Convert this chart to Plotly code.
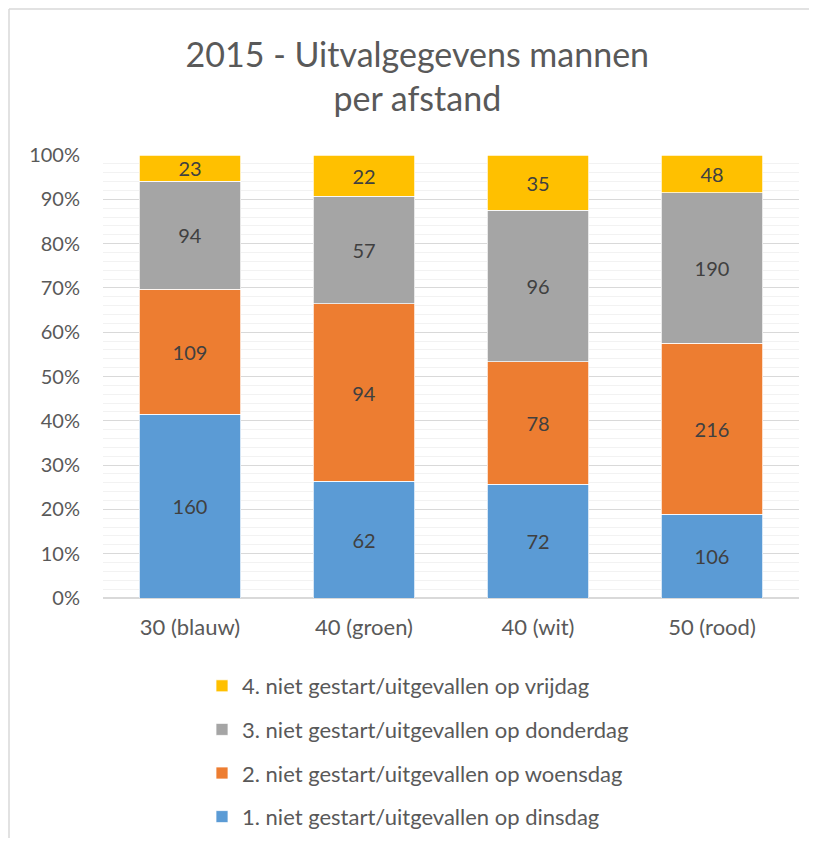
import plotly.graph_objects as go

categories = ["30 (blauw)", "40 (groen)", "40 (wit)", "50 (rood)"]
dinsdag = [160, 62, 72, 106]
woensdag = [109, 94, 78, 216]
donderdag = [94, 57, 96, 190]
vrijdag = [23, 22, 35, 48]

series = [
    ("1. niet gestart/uitgevallen op dinsdag", dinsdag, "#5B9BD5"),
    ("2. niet gestart/uitgevallen op woensdag", woensdag, "#ED7D31"),
    ("3. niet gestart/uitgevallen op donderdag", donderdag, "#A5A5A5"),
    ("4. niet gestart/uitgevallen op vrijdag", vrijdag, "#FFC000"),
]

FONT = "Lato"
OFF = 8  # page body margin
W, H = 801, 830  # fits the window together with the body margin
L, R, T, B = 95, 10, 147, 240
pw, ph = W - L - R, H - T - B


def px_x(x):
    # screenshot x -> paper x
    return (x - OFF - L) / pw


def px_y(y):
    # screenshot y -> paper y
    return (H - B - (y - OFF)) / ph


fig = go.Figure()
for i, (name, vals, color) in enumerate(series):
    fig.add_trace(
        go.Bar(
            x=categories,
            y=vals,
            name=name,
            legendgroup=str(i),
            legendrank=10 - i,
            marker=dict(color=color, line=dict(color="white", width=0.75)),
            text=[str(v) for v in vals],
            textposition="inside",
            insidetextanchor="middle",
            textangle=0,
            textfont=dict(family=FONT, size=20, color="#404040"),
        )
    )

fig.update_layout(
    width=W,
    height=H,
    barmode="stack",
    barnorm="percent",
    bargap=0.415,
    uniformtext=dict(minsize=20, mode="show"),
    paper_bgcolor="white",
    plot_bgcolor="white",
    margin=dict(l=L, r=R, t=T, b=B, autoexpand=False),
    font=dict(family=FONT, color="#595959"),
    title=dict(
        text="2015 - Uitvalgegevens mannen<br>per afstand",
        x=0.511,
        xanchor="center",
        y=0.9287,
        yanchor="top",
        yref="container",
        font=dict(family=FONT, size=34, color="#595959"),
    ),
    xaxis=dict(
        showgrid=False,
        showline=False,
        ticks="",
        ticklabelstandoff=14,
        tickfont=dict(size=22, color="#595959"),
    ),
    yaxis=dict(
        range=[0, 100],
        dtick=10,
        ticksuffix="%",
        tickfont=dict(size=20, color="#595959"),
        gridcolor="#D9D9D9",
        gridwidth=1,
        zeroline=True,
        zerolinecolor="#D9D9D9",
        zerolinewidth=1.5,
        showline=False,
        ticks="",
        ticklabelstandoff=22,
        minor=dict(dtick=2, showgrid=True, gridcolor="#F2F2F2", gridwidth=1),
    ),
    legend=dict(
        orientation="v",
        traceorder="grouped",
        tracegroupgap=12,
        x=px_x(202),
        xanchor="left",
        y=px_y(665),
        yanchor="top",
        itemwidth=30,
        font=dict(family=FONT, size=22, color="#595959"),
    ),
    showlegend=True,
)

# chart frame: only the left and top edges are inside the picture
frame = dict(color="#D9D9D9", width=1.5)
fig.add_shape(type="line", xref="paper", yref="paper",
              x0=px_x(9), x1=px_x(9), y0=px_y(880), y1=px_y(9),
              line=frame, layer="below")
fig.add_shape(type="line", xref="paper", yref="paper",
              x0=px_x(9), x1=px_x(840), y0=px_y(9), y1=px_y(9),
              line=frame, layer="below")

fig.write_html("out.html")
